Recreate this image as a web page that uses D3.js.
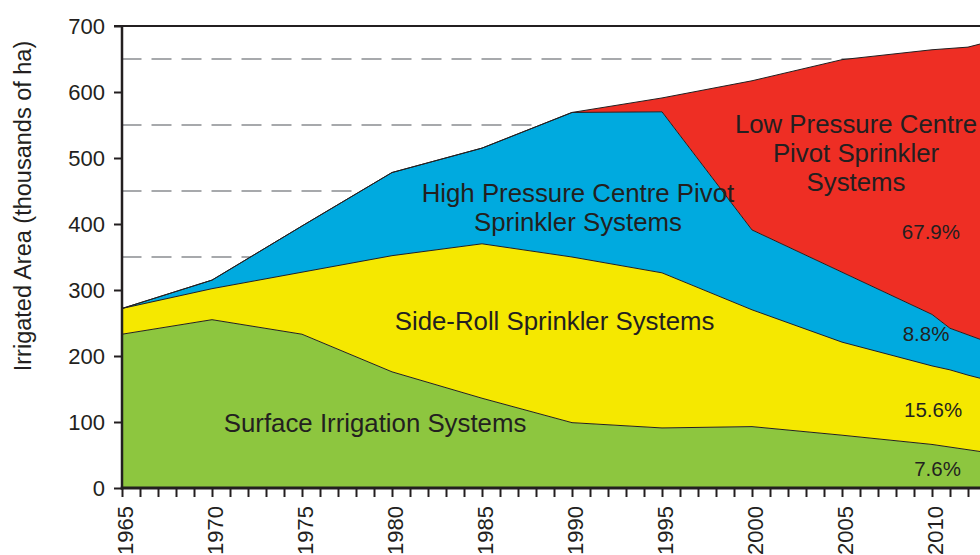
<!DOCTYPE html>
<html>
<head>
<meta charset="utf-8">
<script src="https://cdn.jsdelivr.net/npm/d3@7"></script>
<style>
  html, body { margin: 0; padding: 0; background: #ffffff; }
  svg { display: block; }
  text { font-family: Arial, "Liberation Sans", Helvetica, sans-serif; fill: #231f20; }
</style>
</head>
<body>
<svg id="chart" width="980" height="555"></svg>
<script>
// ---- data (thousands of ha, layer values) ----
const years = [1965, 1970, 1975, 1980, 1985, 1990, 1995, 2000, 2005, 2010, 2011, 2012, 2013];
const surface      = [233, 255, 233, 176, 136,  99,  91,  93,  80,  66,  62,  58,  54];
const sideRoll     = [ 39,  47,  94, 176, 234, 251, 235, 177, 141, 119, 117, 113, 110];
const highPressure = [  0,  13,  70, 126, 145, 219, 244, 121, 106,  78,  63,  61,  58];
const lowPressure  = [  0,   0,   0,   0,   0,   0,  21, 226, 322, 401, 424, 436, 453];
const seriesKeys = ["surface", "sideRoll", "highPressure", "lowPressure"];
const seriesColors = ["#8dc63f", "#f5e800", "#00aadf", "#ee2e24"];
const yTicks = [0, 100, 200, 300, 400, 500, 600, 700];
const gridValues = [350, 450, 550, 650];
const areaLabels = [
  { lines: ["Surface Irrigation Systems"], year: 1979.06, value: 84.8 },
  { lines: ["Side-Roll Sprinkler Systems"], year: 1989.03, value: 239.4 },
  { lines: ["High Pressure Centre Pivot", "Sprinkler Systems"], year: 1990.33, value: 411.8 },
  { lines: ["Low Pressure Centre", "Pivot Sprinkler", "Systems"], year: 2005.78, value: 494.4 }
];
const pctLabels = [
  { text: "67.9%", year: 2009.94, value: 376.8 },
  { text: "8.8%", year: 2009.67, value: 222.7 },
  { text: "15.6%", year: 2010.06, value: 108 },
  { text: "7.6%", year: 2010.31, value: 18.6 }
];
const yTitle = "Irrigated Area (thousands of ha)";

// ---- layout ----
const svg = d3.select("#chart");
const x = d3.scaleLinear().domain([1965, 2015]).range([122, 1022]);
const y = d3.scaleLinear().domain([0, 700]).range([488, 26]);

const table = years.map((yr, i) => ({
  year: yr,
  surface: surface[i],
  sideRoll: sideRoll[i],
  highPressure: highPressure[i],
  lowPressure: lowPressure[i]
}));
const stacked = d3.stack().keys(seriesKeys)(table);

// gridlines (behind areas)
svg.append("g").selectAll("line").data(gridValues).join("line")
  .attr("x1", 121.5).attr("x2", 1022)
  .attr("y1", d => y(d)).attr("y2", d => y(d))
  .attr("stroke", "#a7a9ac").attr("stroke-width", 2)
  .attr("stroke-dasharray", "20,10");

// areas
const area = d3.area()
  .x(d => x(d.data.year))
  .y0(d => y(d[0]))
  .y1(d => y(d[1]));
const topLine = d3.line()
  .x(d => x(d.data.year))
  .y(d => y(d[1]));

svg.append("g").selectAll("path").data(stacked).join("path")
  .attr("d", area)
  .attr("fill", (d, i) => seriesColors[i]);

svg.append("g").selectAll("path").data(stacked).join("path")
  .attr("d", topLine)
  .attr("fill", "none")
  .attr("stroke", "#231f20")
  .attr("stroke-width", 1)
  .attr("stroke-linejoin", "round");

// frame: top line
svg.append("line")
  .attr("x1", 114).attr("x2", 1022)
  .attr("y1", y(700)).attr("y2", y(700))
  .attr("stroke", "#231f20").attr("stroke-width", 2);

// left axis
const yAxis = svg.append("g")
  .attr("transform", "translate(122,0)")
  .call(d3.axisLeft(y).tickValues(yTicks).tickSize(8).tickPadding(9).tickFormat(d3.format("d")));
yAxis.select(".domain").remove();
yAxis.selectAll(".tick line").attr("stroke", "#231f20").attr("stroke-width", 2);
yAxis.selectAll(".tick text")
  .style("font-size", "22px").style("font-family", "Arial, 'Liberation Sans', sans-serif")
  .attr("fill", "#231f20");
svg.append("line")
  .attr("x1", 122).attr("x2", 122).attr("y1", 25).attr("y2", 489.5)
  .attr("stroke", "#231f20").attr("stroke-width", 2.5);

// bottom axis
const xAxis = svg.append("g")
  .attr("transform", "translate(0,488)")
  .call(d3.axisBottom(x).tickValues(d3.range(1965, 2015)).tickSize(9)
    .tickFormat(d => d % 5 === 0 ? String(d) : ""));
xAxis.select(".domain").remove();
xAxis.selectAll(".tick line").attr("stroke", "#231f20").attr("stroke-width", 2);
xAxis.selectAll(".tick text")
  .style("font-size", "22px").style("font-family", "Arial, 'Liberation Sans', sans-serif")
  .attr("fill", "#231f20")
  .attr("transform", "rotate(-90)")
  .attr("text-anchor", "end")
  .attr("x", -18).attr("y", 10).attr("dy", "0");
svg.append("line")
  .attr("x1", 120.75).attr("x2", 1022).attr("y1", 488).attr("y2", 488)
  .attr("stroke", "#231f20").attr("stroke-width", 3);

// y title
svg.append("text")
  .attr("transform", "translate(31,206) rotate(-90)")
  .attr("text-anchor", "middle")
  .style("font-size", "23.5px")
  .text(yTitle);

// area labels
areaLabels.forEach(l => {
  const t = svg.append("text")
    .attr("text-anchor", "middle")
    .style("font-size", "25.8px");
  const n = l.lines.length;
  l.lines.forEach((s, i) => {
    t.append("tspan")
      .attr("x", x(l.year))
      .attr("y", y(l.value) + (i - (n - 1) / 2) * 29)
      .text(s);
  });
});

// percentage labels
svg.append("g").selectAll("text").data(pctLabels).join("text")
  .attr("x", d => x(d.year)).attr("y", d => y(d.value))
  .attr("text-anchor", "middle")
  .style("font-size", "20.5px")
  .text(d => d.text);
</script>
</body>
</html>
